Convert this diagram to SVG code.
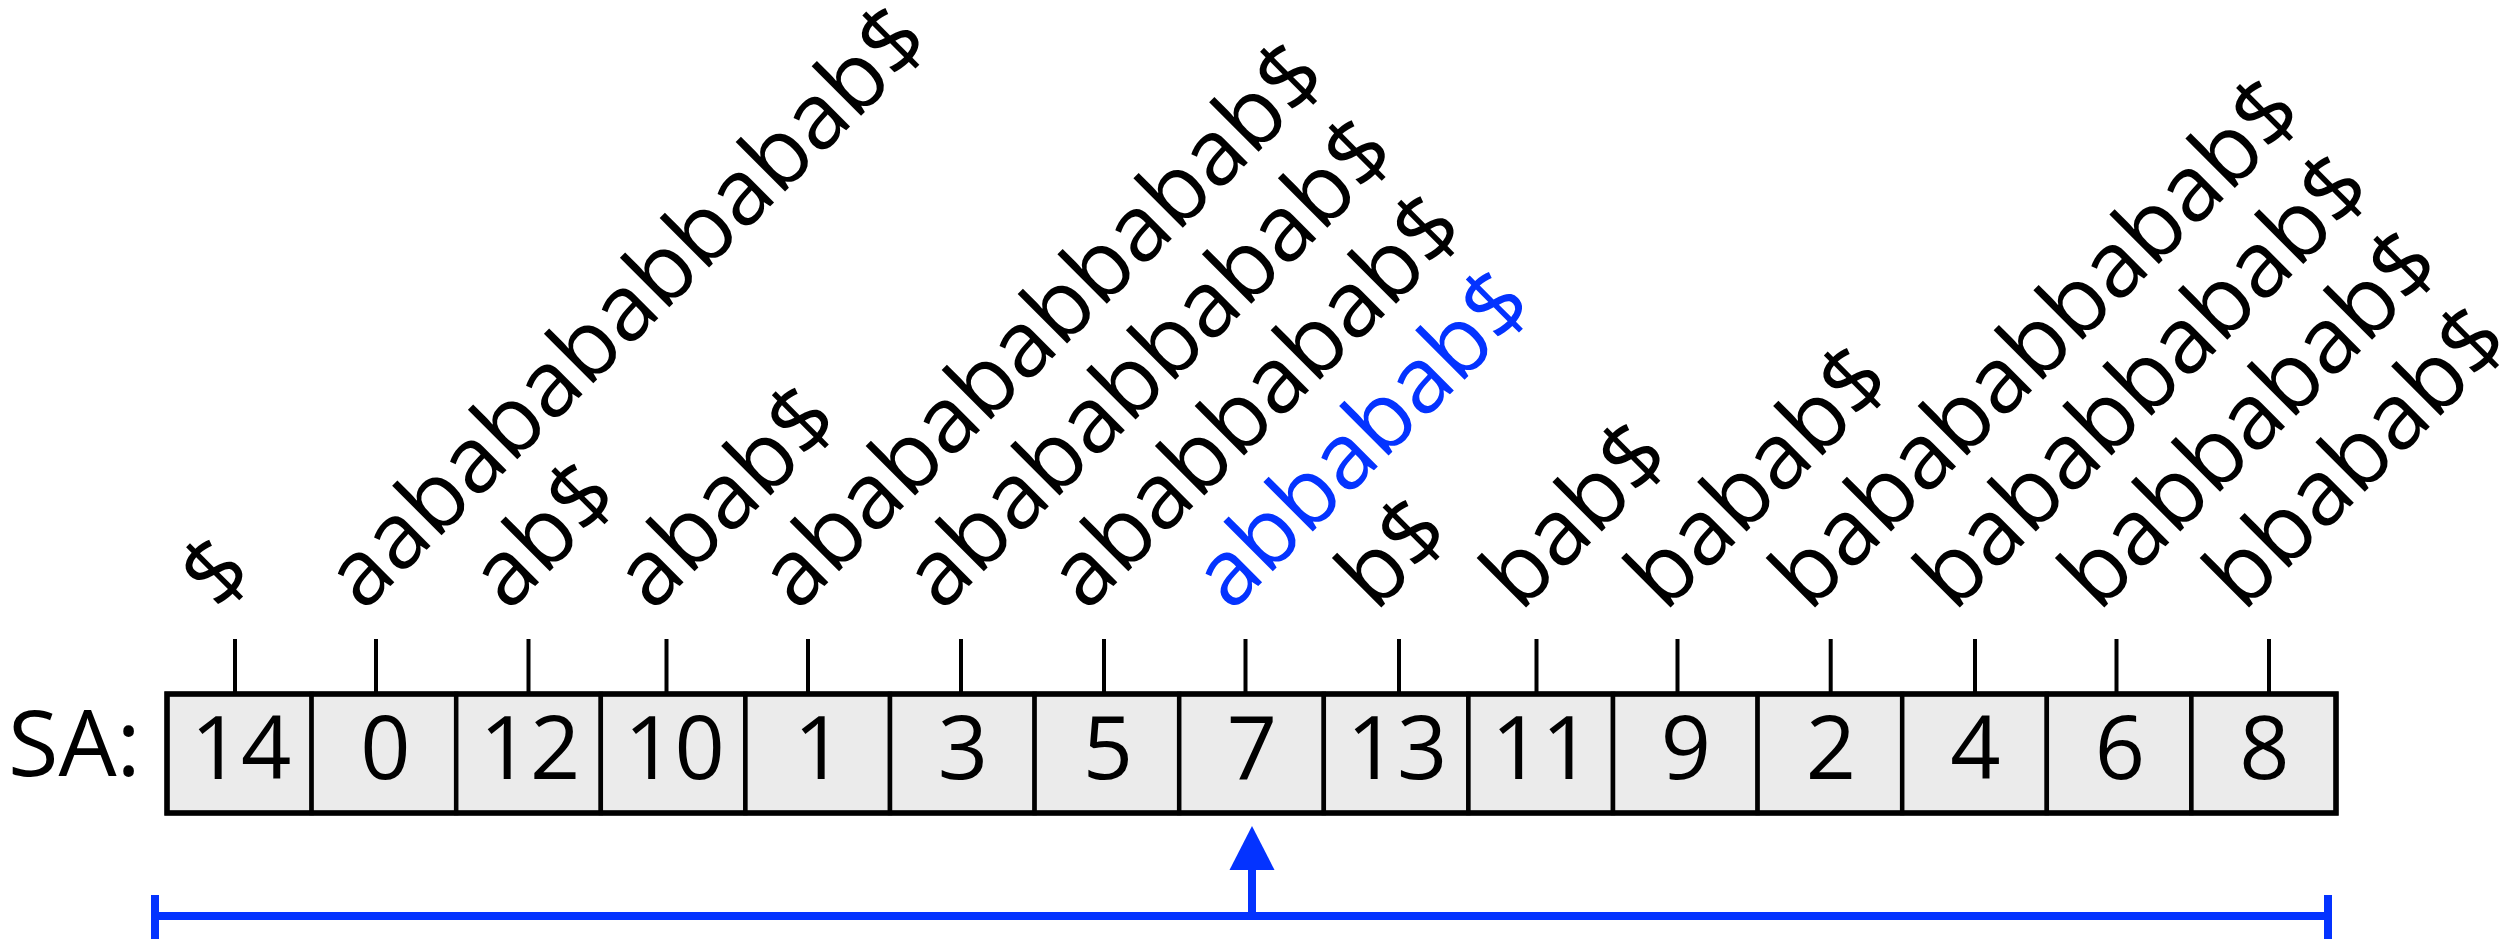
<svg xmlns="http://www.w3.org/2000/svg" width="2507" height="943" viewBox="0 0 2507 943">
  <defs>
    <style>
      .cell { fill: #ebebeb; stroke: #000; stroke-width: 4.5; }
      .num { font-family: "Open Sans", "Liberation Sans", sans-serif; font-size: 88px; fill: #000; text-anchor: middle; }
      .suf { font-family: "Open Sans", "Liberation Sans", sans-serif; font-size: 92px; fill: #000; }
      .hl { fill: #0433ff; }
      .tick { stroke: #000; stroke-width: 4; fill: none; }
      .range { stroke: #0433ff; stroke-width: 8; fill: none; }
    </style>
  </defs>
  <rect width="2507" height="943" fill="#fff"/>

  <text x="8" y="776" font-family="Open Sans, Liberation Sans, sans-serif" font-size="92" fill="#000">SA:</text>

  <!-- suffix array cells, each with its suffix label -->
  <g id="sa0"><rect class="cell" x="167" y="694" width="144.6" height="119"/><text class="num" x="241" y="779">14</text><text class="suf" transform="translate(219,613) rotate(-45)">$</text></g>
  <g id="sa1"><rect class="cell" x="311.6" y="694" width="144.6" height="119"/><text class="num" x="385.5" y="779">0</text><text class="suf" transform="translate(363.6,613) rotate(-45)">aababababbabab$</text></g>
  <g id="sa2"><rect class="cell" x="456.2" y="694" width="144.6" height="119"/><text class="num" x="530" y="779">12</text><text class="suf" transform="translate(508.2,613) rotate(-45)">ab$</text></g>
  <g id="sa3"><rect class="cell" x="600.8" y="694" width="144.6" height="119"/><text class="num" x="674.5" y="779">10</text><text class="suf" transform="translate(652.8,613) rotate(-45)">abab$</text></g>
  <g id="sa4"><rect class="cell" x="745.4" y="694" width="144.6" height="119"/><text class="num" x="819" y="779">1</text><text class="suf" transform="translate(797.4,613) rotate(-45)">ababababbabab$</text></g>
  <g id="sa5"><rect class="cell" x="890" y="694" width="144.6" height="119"/><text class="num" x="963" y="779">3</text><text class="suf" transform="translate(942,613) rotate(-45)">abababbabab$</text></g>
  <g id="sa6"><rect class="cell" x="1034.6" y="694" width="144.6" height="119"/><text class="num" x="1108" y="779">5</text><text class="suf" transform="translate(1086.6,613) rotate(-45)">ababbabab$</text></g>
  <g id="sa7"><rect class="cell" x="1179.2" y="694" width="144.6" height="119"/><text class="num" x="1252" y="779">7</text><text class="suf hl" transform="translate(1231.2,613) rotate(-45)">abbabab$</text></g>
  <g id="sa8"><rect class="cell" x="1323.8" y="694" width="144.6" height="119"/><text class="num" x="1397" y="779">13</text><text class="suf" transform="translate(1375.8,613) rotate(-45)">b$</text></g>
  <g id="sa9"><rect class="cell" x="1468.4" y="694" width="144.6" height="119"/><text class="num" x="1541.5" y="779">11</text><text class="suf" transform="translate(1520.4,613) rotate(-45)">bab$</text></g>
  <g id="sa10"><rect class="cell" x="1613" y="694" width="144.6" height="119"/><text class="num" x="1686" y="779">9</text><text class="suf" transform="translate(1665,613) rotate(-45)">babab$</text></g>
  <g id="sa11"><rect class="cell" x="1757.6" y="694" width="144.6" height="119"/><text class="num" x="1831" y="779">2</text><text class="suf" transform="translate(1809.6,613) rotate(-45)">babababbabab$</text></g>
  <g id="sa12"><rect class="cell" x="1902.2" y="694" width="144.6" height="119"/><text class="num" x="1975.5" y="779">4</text><text class="suf" transform="translate(1954.2,613) rotate(-45)">bababbabab$</text></g>
  <g id="sa13"><rect class="cell" x="2046.8" y="694" width="144.6" height="119"/><text class="num" x="2120" y="779">6</text><text class="suf" transform="translate(2098.8,613) rotate(-45)">babbabab$</text></g>
  <g id="sa14"><rect class="cell" x="2191.4" y="694" width="144.6" height="119"/><text class="num" x="2264.5" y="779">8</text><text class="suf" transform="translate(2243.4,613) rotate(-45)">bbabab$</text></g>

  <!-- outer frame of the array -->
  <rect x="167" y="694" width="2169" height="119" fill="none" stroke="#000" stroke-width="5.5"/>

  <g id="connectors">
    <!-- label ticks -->
    <path class="tick" d="M235 639V694M376 639V694M528.5 639V694M666.5 639V694M808 639V694M961 639V694M1104 639V694M1245.5 639V694M1399 639V694M1536.5 639V694M1677.5 639V694M1830.7 639V694M1975 639V694M2116.5 639V694M2269 639V694"/>
    <!-- search range with pointer -->
    <path class="range" d="M155 916H2328M155 895V939M2328 895V939M1252 916V868"/>
    <polygon points="1252,826 1274.5,870 1229.5,870" fill="#0433ff"/>
  </g>
</svg>
